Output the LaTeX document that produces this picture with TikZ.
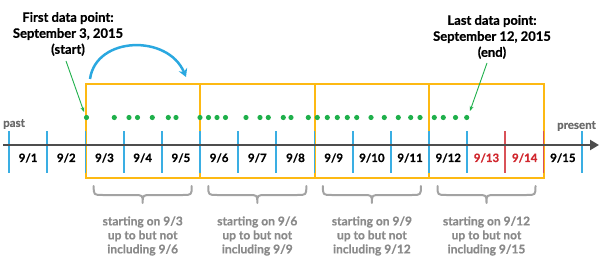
\documentclass[tikz,border=0pt]{standalone}
\usepackage{fontspec}
\setmainfont{Lato}[BoldFeatures={FakeBold=0.6}]
\usetikzlibrary{arrows.meta}
\definecolor{boxorange}{HTML}{FDB913}
\definecolor{tickblue}{HTML}{3AAEE3}
\definecolor{arcblue}{HTML}{2AA8E0}
\definecolor{dotgreen}{HTML}{1FB04B}
\definecolor{datered}{HTML}{D0272E}
\definecolor{axisgray}{HTML}{4D4D4D}
\definecolor{bracegray}{HTML}{A3A3A3}
\definecolor{textgray}{HTML}{8A8A8A}
\definecolor{sidegray}{HTML}{6A6A6A}
\begin{document}
\begin{tikzpicture}[x=1pt,y=-1pt,
  datelbl/.style={font=\bfseries\fontsize{11.5}{13}\selectfont, text=black, inner sep=0pt},
  redlbl/.style={datelbl, text=datered},
  headlbl/.style={font=\bfseries\fontsize{13}{16}\selectfont, align=center, inner sep=0pt},
  desclbl/.style={font=\bfseries\fontsize{12}{14}\selectfont, text=textgray, align=center, inner sep=0pt},
  sidelbl/.style={font=\bfseries\fontsize{11.5}{13}\selectfont, text=sidegray, inner sep=0pt},
  orangebox/.style={draw=boxorange, line width=2pt},
  bluetick/.style={draw=tickblue, line width=1.8pt},
  redtick/.style={draw=datered!80!white, line width=1.8pt},
  axisline/.style={draw=axisgray, line width=2.6pt, -{Triangle[length=9pt,width=10pt]}},
  greendot/.style={fill=dotgreen},
  pointer/.style={draw=dotgreen, line width=0.9pt, -{Stealth[length=5pt,width=4pt]}},
  arcarrow/.style={draw=arcblue, line width=2.5pt, -{Stealth[length=8pt,width=9pt]}},
  bracestyle/.style={draw=bracegray, line width=2pt, line cap=round, line join=round}
]
\useasboundingbox (0,0) rectangle (600,270);

% orange window boxes
\draw[orangebox] (85.5,84) rectangle (543.5,178);
\foreach \x in {200,314.5,429} \draw[orangebox] (\x,84) -- (\x,178);

% ticks
\foreach \tx in {9,47,85.5,124,162,200,238,276,314.5,353,391,429,467,582}
  \draw[bluetick] (\tx,131) -- (\tx,173);
\draw[redtick] (505,131) -- (505,173);
\draw[redtick] (543.5,131) -- (543.5,173);

% axis
\coordinate (axstart) at (3,145);
\coordinate (axend) at (599,145);
\draw[axisline] (axstart) -- (axend);

% date labels
\foreach \i in {1,...,12,15} {
  \pgfmathsetmacro{\lx}{9+38.2*(\i-0.5)}
  \node[datelbl] (day\i) at (\lx,158) {9/\i};
}
\node[redlbl] (day13) at ({9+38.2*12.5},158) {9/13};
\node[redlbl] (day14) at ({9+38.2*13.5},158) {9/14};

% past / present
\node[sidelbl, anchor=west] (past) at (3,124) {past};
\node[sidelbl, anchor=east] (present) at (596,126) {present};

% green data dots
\foreach \x in {86.5,114.3,129,137.5,152.3,168.3,176,200,208.5,217,225.5,246,260,268.3,283.3,291,308.3,317.3,327.3,337.3,347.3,356.7,371,384.3,398.3,410.7,420,434.3,443.3,455.5,466.7}
  \fill[greendot] (\x,117.5) circle (2.6);

% headings
\node[headlbl] (firsthead) at (68,34) {First data point:\\September 3, 2015\\(start)};
\node[headlbl] (lasthead) at (492,37) {Last data point:\\September 12, 2015\\(end)};

% pointers
\coordinate (firsttail) at (66,61);
\coordinate (firsttip) at (84,112);
\coordinate (lasttail) at (487,63);
\coordinate (lasttip) at (470,111);
\draw[pointer] (firsttail) -- (firsttip);
\draw[pointer] (lasttail) -- (lasttip);

% blue arc arrow
\coordinate (arcstart) at (90,79);
\coordinate (arcend) at (186,77);
\draw[arcarrow] (arcstart) .. controls (96,36) and (168,34) .. (arcend);

% braces and descriptions
\foreach \c/\a/\b/\n in {142.7/3/6/1, 257.3/6/9/2, 371.9/9/12/3, 486.5/12/15/4} {
  \draw[bracestyle] ({\c-49},186) .. controls ({\c-49},195) .. ({\c-40},195)
     -- ({\c-9},195) .. controls ({\c},195) .. ({\c},203)
     .. controls ({\c},195) .. ({\c+9},195)
     -- ({\c+40},195) .. controls ({\c+49},195) .. ({\c+49},186);
  \node[desclbl] (desc\n) at (\c,236) {starting on 9/\a\\up to but not\\including 9/\b};
}
\end{tikzpicture}
\end{document}
